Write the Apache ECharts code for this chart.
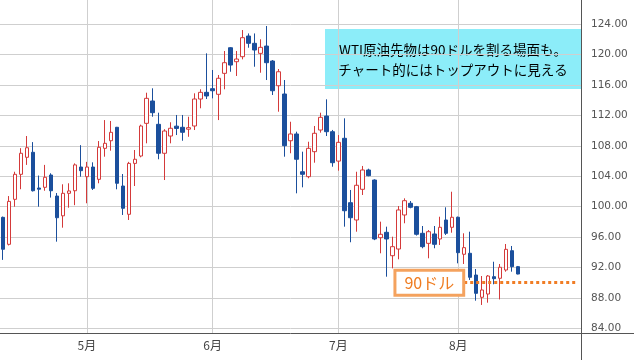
<!DOCTYPE html>
<html>
<head>
<meta charset="utf-8">
<script src="https://cdn.jsdelivr.net/npm/echarts@6/dist/echarts.min.js"></script>
<style>
html,body{margin:0;padding:0;background:#fff;}
#c{width:639px;height:360px;}
</style>
</head>
<body>
<div id="c"></div>
<script>
// Trading days (last 10 are empty future slots on the axis)
const dates = [
'2022-04-11','2022-04-12','2022-04-13','2022-04-14','2022-04-18','2022-04-19','2022-04-20','2022-04-21','2022-04-22','2022-04-25','2022-04-26','2022-04-27','2022-04-28','2022-04-29',
'2022-05-02','2022-05-03','2022-05-04','2022-05-05','2022-05-06','2022-05-09','2022-05-10','2022-05-11','2022-05-12','2022-05-13','2022-05-16','2022-05-17','2022-05-18','2022-05-19','2022-05-20','2022-05-23','2022-05-24','2022-05-25','2022-05-26','2022-05-27','2022-05-31',
'2022-06-01','2022-06-02','2022-06-03','2022-06-06','2022-06-07','2022-06-08','2022-06-09','2022-06-10','2022-06-13','2022-06-14','2022-06-15','2022-06-16','2022-06-17','2022-06-21','2022-06-22','2022-06-23','2022-06-24','2022-06-27','2022-06-28','2022-06-29','2022-06-30',
'2022-07-01','2022-07-05','2022-07-06','2022-07-07','2022-07-08','2022-07-11','2022-07-12','2022-07-13','2022-07-14','2022-07-15','2022-07-18','2022-07-19','2022-07-20','2022-07-21','2022-07-22','2022-07-25','2022-07-26','2022-07-27','2022-07-28','2022-07-29',
'2022-08-01','2022-08-02','2022-08-03','2022-08-04','2022-08-05','2022-08-08','2022-08-09','2022-08-10','2022-08-11','2022-08-12','2022-08-15',
'2022-08-16','2022-08-17','2022-08-18','2022-08-19','2022-08-22','2022-08-23','2022-08-24','2022-08-25','2022-08-26','2022-08-29'
];
const opens = [98.6,95.05,100.97,104.26,106.5,107.16,102.46,102.55,104.17,101.4,98.8,101.76,102.1,105.22,
103.95,105.22,103.6,107.68,108.68,110.45,102.72,99.0,105.7,106.67,110.97,113.91,110.84,107.03,109.3,110.6,110.45,110.2,110.62,114.17,115.05,
115.53,114.79,117.55,120.92,119.08,119.74,122.46,121.5,120.18,121.14,119.17,115.92,114.83,108.68,109.57,104.6,103.95,107.24,110.09,111.93,109.87,
106.0,109.0,100.53,98.25,102.29,104.83,103.51,95.92,96.63,93.55,94.43,98.91,100.45,100.0,96.5,95.18,96.41,95.75,98.25,97.29,
98.61,93.74,93.87,91.01,88.08,88.51,90.79,90.58,91.67,94.21,92.11];
const closes = [94.4,100.7,104.26,107.03,107.76,102.1,102.3,103.87,102.1,98.55,101.76,102.07,105.5,104.74,
105.22,102.42,107.82,108.34,109.79,103.08,99.79,105.7,106.24,110.62,114.26,112.37,107.03,109.96,110.32,110.3,109.79,110.4,114.17,115.05,114.57,
115.26,116.9,118.95,118.64,119.43,122.24,121.5,120.62,120.97,118.95,115.26,117.76,108.03,109.57,106.24,104.26,107.68,109.66,111.76,109.87,105.79,
108.47,99.47,98.55,102.82,104.83,104.08,95.75,96.37,95.75,94.74,99.57,100.79,99.92,96.37,94.74,96.71,95.05,97.29,96.5,98.61,
93.95,94.61,90.71,88.6,89.04,90.88,90.53,92.03,94.39,92.11,91.14];
const lows = [93.0,94.9,100.0,102.3,105.5,102.0,100.0,102.1,101.2,95.4,97.24,99.87,100.2,103.95,
100.45,102.2,103.08,106.58,107.37,102.29,98.91,98.25,102.72,106.5,108.34,111.84,106.24,103.51,108.34,109.43,108.68,109.2,110.09,112.95,114.17,
114.26,111.4,115.45,117.76,117.2,119.39,120.92,118.42,117.63,116.67,114.7,112.5,106.58,107.03,101.76,102.55,103.74,105.79,109.74,109.3,105.26,
104.74,97.37,95.32,96.71,101.54,104.0,95.6,93.87,90.79,91.89,93.08,97.82,99.79,96.2,94.53,93.21,94.53,94.96,96.28,96.58,
92.55,92.46,90.36,87.63,87.07,87.37,89.79,87.8,91.45,91.45,91.1];
const highs = [98.7,101.4,104.6,107.7,109.3,108.5,104.1,105.5,104.4,101.8,102.95,103.08,105.7,108.1,
105.9,105.84,108.64,111.4,111.28,110.5,104.3,105.9,107.46,110.8,115.0,115.58,112.37,110.2,111.11,112.07,112.07,111.84,114.92,115.45,120.18,
117.99,117.33,120.49,121.0,120.49,123.25,122.8,122.8,122.03,123.78,119.3,118.12,116.67,111.18,109.87,107.24,108.55,110.62,112.37,114.13,110.1,
109.43,111.63,102.2,104.6,105.36,105.0,103.6,98.03,97.37,96.05,100.09,101.1,100.75,100.1,97.46,96.93,97.46,98.68,99.92,101.97,
98.7,96.5,96.71,91.8,90.88,91.0,92.76,92.46,95.09,94.83,92.2];
const yTicks = [84,88,92,96,100,104,108,112,116,120,124];
const noteLines = ['WTI原油先物は90ドルを割る場面も。','チャート的にはトップアウトに見える'];
const levelPrice = 90;
const levelLabel = '90ドル';
const levelStartDate = '2022-08-02';

const candles = opens.map((o, i) => [o, closes[i], lows[i], highs[i]]);
const isMonthStart = (i) => i > 0 && dates[i].slice(5, 7) !== dates[i - 1].slice(5, 7);

const chart = echarts.init(document.getElementById('c'), null, {renderer: 'canvas'});
chart.setOption({
  animation: false,
  backgroundColor: '#ffffff',
  grid: {left: -1.5, right: 58, top: 0, bottom: 27},
  xAxis: {
    type: 'category',
    data: dates,
    boundaryGap: true,
    axisLine: {show: true, lineStyle: {color: '#555', width: 1}},
    axisTick: {show: false},
    axisLabel: {
      interval: (i) => isMonthStart(i),
      formatter: (v) => parseInt(v.slice(5, 7), 10) + '月',
      color: '#444', fontSize: 12, margin: 6,
      fontFamily: 'Noto Sans CJK JP'
    },
    splitLine: {show: true, interval: (i) => isMonthStart(i), alignWithLabel: true,
      lineStyle: {color: '#cfcfcf', width: 1}}
  },
  yAxis: {
    type: 'value',
    position: 'right',
    min: 83.38, max: 127.2,
    scale: true,
    axisLine: {show: true, lineStyle: {color: '#555', width: 1}},
    axisTick: {show: false, customValues: yTicks},
    axisLabel: {customValues: yTicks, formatter: (v) => v.toFixed(2), color: '#555', fontSize: 10.5,
      fontFamily: 'DejaVu Sans', margin: 10},
    splitLine: {show: true, lineStyle: {color: '#cfcfcf', width: 1}}
  },
  series: [{
    type: 'candlestick',
    data: candles,
    barWidth: 4,
    itemStyle: {
      color: '#ffffff', color0: '#1b4f9c',
      borderColor: '#d43a3a', borderColor0: '#1b4f9c', borderWidth: 1
    },
    markLine: {
      silent: true,
      symbol: ['none', 'none'],
      lineStyle: {type: [3, 3], color: '#f07d25', width: 3},
      label: {
        show: true, position: 'start', formatter: levelLabel, distance: 2,
        color: '#ef7b1f', fontSize: 16, fontFamily: 'Noto Sans CJK JP',
        backgroundColor: '#ffffff', borderColor: '#f4a25e', borderWidth: 3,
        padding: [3, 8, 3, 8]
      },
      data: [[{coord: [levelStartDate, levelPrice]}, {coord: [dates[dates.length - 1], levelPrice]}]]
    }
  }],
  graphic: [
    {type: 'line', shape: {x1: 581.5, y1: 333.5, x2: 634, y2: 333.5}, style: {stroke: '#555', lineWidth: 1}, silent: true},
    {type: 'line', shape: {x1: 581.5, y1: 333, x2: 581.5, y2: 360}, style: {stroke: '#555', lineWidth: 1}, silent: true},
    {type: 'group', left: 325, top: 29, children: [
      {type: 'rect', shape: {x: 0, y: 0, width: 256, height: 60}, style: {fill: '#8cedf9'}},
      {type: 'text', x: 128, y: 21, style: {text: noteLines[0], fill: '#000', font: '13.5px "Noto Sans CJK JP"', textAlign: 'center', textVerticalAlign: 'middle'}},
      {type: 'text', x: 128, y: 41, style: {text: noteLines[1], fill: '#000', font: '13.5px "Noto Sans CJK JP"', textAlign: 'center', textVerticalAlign: 'middle'}}
    ]}
  ]
});
</script>
</body>
</html>
